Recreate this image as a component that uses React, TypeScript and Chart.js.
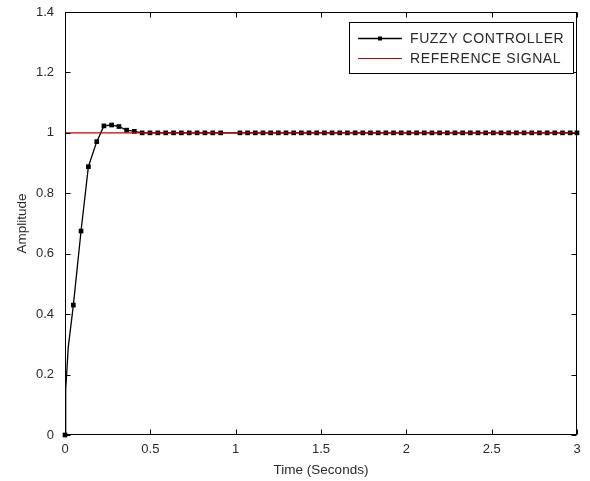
import React, { useEffect, useRef } from "react";
import { Chart, registerables } from "chart.js";

Chart.register(...registerables);

// ---- data ----
const timeSeconds = [
  0, 0.004, 0.019, 0.049, 0.094, 0.137, 0.186, 0.228, 0.273, 0.316, 0.361, 0.406,
  0.452, 0.498, 0.544, 0.59, 0.636, 0.682, 0.728, 0.774, 0.82, 0.866, 0.912,
  1.025, 1.07, 1.115, 1.16, 1.205, 1.25, 1.295, 1.34, 1.385, 1.43, 1.475, 1.52,
  1.565, 1.61, 1.655, 1.7, 1.745, 1.79, 1.835, 1.88, 1.925, 1.97, 2.015, 2.06,
  2.105, 2.15, 2.195, 2.24, 2.285, 2.33, 2.375, 2.42, 2.465, 2.51, 2.555, 2.6,
  2.645, 2.69, 2.735, 2.78, 2.825, 2.87, 2.915, 2.96, 3.0,
];
const fuzzyAmplitude = [
  0, 0.15, 0.29, 0.43, 0.675, 0.888, 0.971, 1.023, 1.026, 1.021, 1.009, 1.005,
  1.0, 1.0, 1.0, 1.0, 1.0, 1.0, 1.0, 1.0, 1.0, 1.0, 1.0,
  1.0, 1.0, 1.0, 1.0, 1.0, 1.0, 1.0, 1.0, 1.0, 1.0, 1.0, 1.0,
  1.0, 1.0, 1.0, 1.0, 1.0, 1.0, 1.0, 1.0, 1.0, 1.0, 1.0, 1.0,
  1.0, 1.0, 1.0, 1.0, 1.0, 1.0, 1.0, 1.0, 1.0, 1.0, 1.0, 1.0,
  1.0, 1.0, 1.0, 1.0, 1.0, 1.0, 1.0, 1.0, 1.0,
];
const unmarkedIndices = [1, 2];
const referenceTime = [0, 3];
const referenceAmplitude = [1, 1];
const xTickValues = [0, 0.5, 1, 1.5, 2, 2.5, 3];
const yTickValues = [0, 0.2, 0.4, 0.6, 0.8, 1, 1.2, 1.4];
const seriesNames = ["FUZZY CONTROLLER", "REFERENCE SIGNAL"];
const xTitle = "Time (Seconds)";
const yTitle = "Amplitude";

const FONT = "'Liberation Sans', Arial, sans-serif";
const BLACK_COLOR = "#000000";
const RED_COLOR = "#cc0000";
const TEXT_COLOR = "#2a2a2a";

const frameAndLegend = {
  id: "frameAndLegend",
  afterDraw(chart: any) {
    const ctx = chart.ctx as CanvasRenderingContext2D;
    const a = chart.chartArea;
    const xs = chart.scales.x;
    const ys = chart.scales.y;
    ctx.save();
    ctx.strokeStyle = "#000";
    ctx.lineWidth = 1;
    const L = Math.round(a.left) + 0.5;
    const R = Math.round(a.right) - 0.5;
    const T = Math.round(a.top) + 0.5;
    const B = Math.round(a.bottom) - 0.5;
    ctx.strokeRect(L, T, R - L, B - T);
    const tl = 5;
    ctx.beginPath();
    for (const v of xTickValues) {
      const px = Math.round(xs.getPixelForValue(v)) + 0.5;
      ctx.moveTo(px, B);
      ctx.lineTo(px, B - tl);
      ctx.moveTo(px, T);
      ctx.lineTo(px, T + tl);
    }
    for (const v of yTickValues) {
      const py = Math.round(ys.getPixelForValue(v)) + 0.5;
      ctx.moveTo(L, py);
      ctx.lineTo(L + tl, py);
      ctx.moveTo(R, py);
      ctx.lineTo(R - tl, py);
    }
    ctx.stroke();

    // legend
    const bx = 349.5, by = 22.5, bw = 224, bh = 51;
    ctx.fillStyle = "#fff";
    ctx.fillRect(bx, by, bw, bh);
    ctx.strokeStyle = "#000";
    ctx.strokeRect(bx, by, bw, bh);
    const rows = [
      { y: 38, color: BLACK_COLOR, marker: true, w: 1.3 },
      { y: 58, color: RED_COLOR, marker: false, w: 1.1 },
    ];
    rows.forEach((r, i) => {
      ctx.strokeStyle = r.color;
      ctx.lineWidth = r.w;
      ctx.beginPath();
      ctx.moveTo(358, r.y + 0.5);
      ctx.lineTo(402, r.y + 0.5);
      ctx.stroke();
      if (r.marker) {
        ctx.fillStyle = r.color;
        ctx.fillRect(378, r.y - 1.5, 4, 4);
      }
      ctx.fillStyle = TEXT_COLOR;
      ctx.font = `14px ${FONT}`;
      (ctx as any).letterSpacing = "0.6px";
      ctx.textBaseline = "middle";
      ctx.textAlign = "left";
      ctx.fillText(seriesNames[i], 410, r.y + 1);
    });
    ctx.restore();
  },
};

export default function App() {
  const canvasRef = useRef<HTMLCanvasElement | null>(null);

  useEffect(() => {
    if (!canvasRef.current) return;
    const fuzzyPoints = timeSeconds.map((t, i) => ({ x: t, y: fuzzyAmplitude[i] }));
    const refPoints = referenceTime.map((t, i) => ({ x: t, y: referenceAmplitude[i] }));
    const radii = timeSeconds.map((_, i) => (unmarkedIndices.includes(i) ? 0 : 3.3));
    const chart = new Chart(canvasRef.current, {
      type: "line",
      data: {
        datasets: [
          {
            label: seriesNames[1],
            data: refPoints,
            borderColor: RED_COLOR,
            borderWidth: 1.2,
            pointRadius: 0,
            order: 0,
          },
          {
            label: seriesNames[0],
            data: fuzzyPoints,
            borderColor: BLACK_COLOR,
            backgroundColor: BLACK_COLOR,
            borderWidth: 1.3,
            pointStyle: "rect",
            pointRadius: radii,
            pointBorderWidth: 0,
            pointBackgroundColor: BLACK_COLOR,
            tension: 0,
            clip: false,
            order: 1,
          },
        ],
      },
      options: {
        responsive: false,
        animation: false,
        events: [],
        layout: { padding: { left: 0, top: 12, right: 13, bottom: 0 } },
        plugins: { legend: { display: false }, tooltip: { enabled: false } },
        scales: {
          x: {
            type: "linear",
            min: 0,
            max: 3,
            afterBuildTicks: (s: any) => {
              s.ticks = xTickValues.map((v) => ({ value: v }));
            },
            afterFit: (s: any) => {
              s.height = 46;
              s.paddingLeft = 0;
              s.paddingRight = 0;
            },
            grid: { display: false, drawTicks: false },
            border: { display: false },
            ticks: {
              padding: 7,
              color: TEXT_COLOR,
              font: { family: FONT, size: 13 },
              maxRotation: 0,
              callback: (v: any) => String(Number(Number(v).toFixed(1))),
            },
            title: {
              display: true,
              text: xTitle,
              color: TEXT_COLOR,
              font: { family: FONT, size: 13.5 },
              padding: { top: 0, bottom: 3 },
            },
          },
          y: {
            type: "linear",
            min: 0,
            max: 1.4,
            afterBuildTicks: (s: any) => {
              s.ticks = yTickValues.map((v) => ({ value: v }));
            },
            afterFit: (s: any) => {
              s.width = 65;
              s.paddingTop = 0;
              s.paddingBottom = 0;
            },
            grid: { display: false, drawTicks: false },
            border: { display: false },
            ticks: {
              padding: 11,
              color: TEXT_COLOR,
              font: { family: FONT, size: 13 },
              callback: (v: any) => String(Number(Number(v).toFixed(1))),
            },
            title: {
              display: true,
              text: yTitle,
              color: TEXT_COLOR,
              font: { family: FONT, size: 13.5 },
              padding: { top: 14, bottom: 0 },
            },
          },
        },
      },
      plugins: [frameAndLegend],
    } as any);
    return () => chart.destroy();
  }, []);

  return (
    <div style={{ position: "absolute", left: 0, top: 0, width: 590, height: 481, background: "#fff" }}>
      <canvas ref={canvasRef} width={590} height={481} style={{ width: 590, height: 481 }} />
    </div>
  );
}
